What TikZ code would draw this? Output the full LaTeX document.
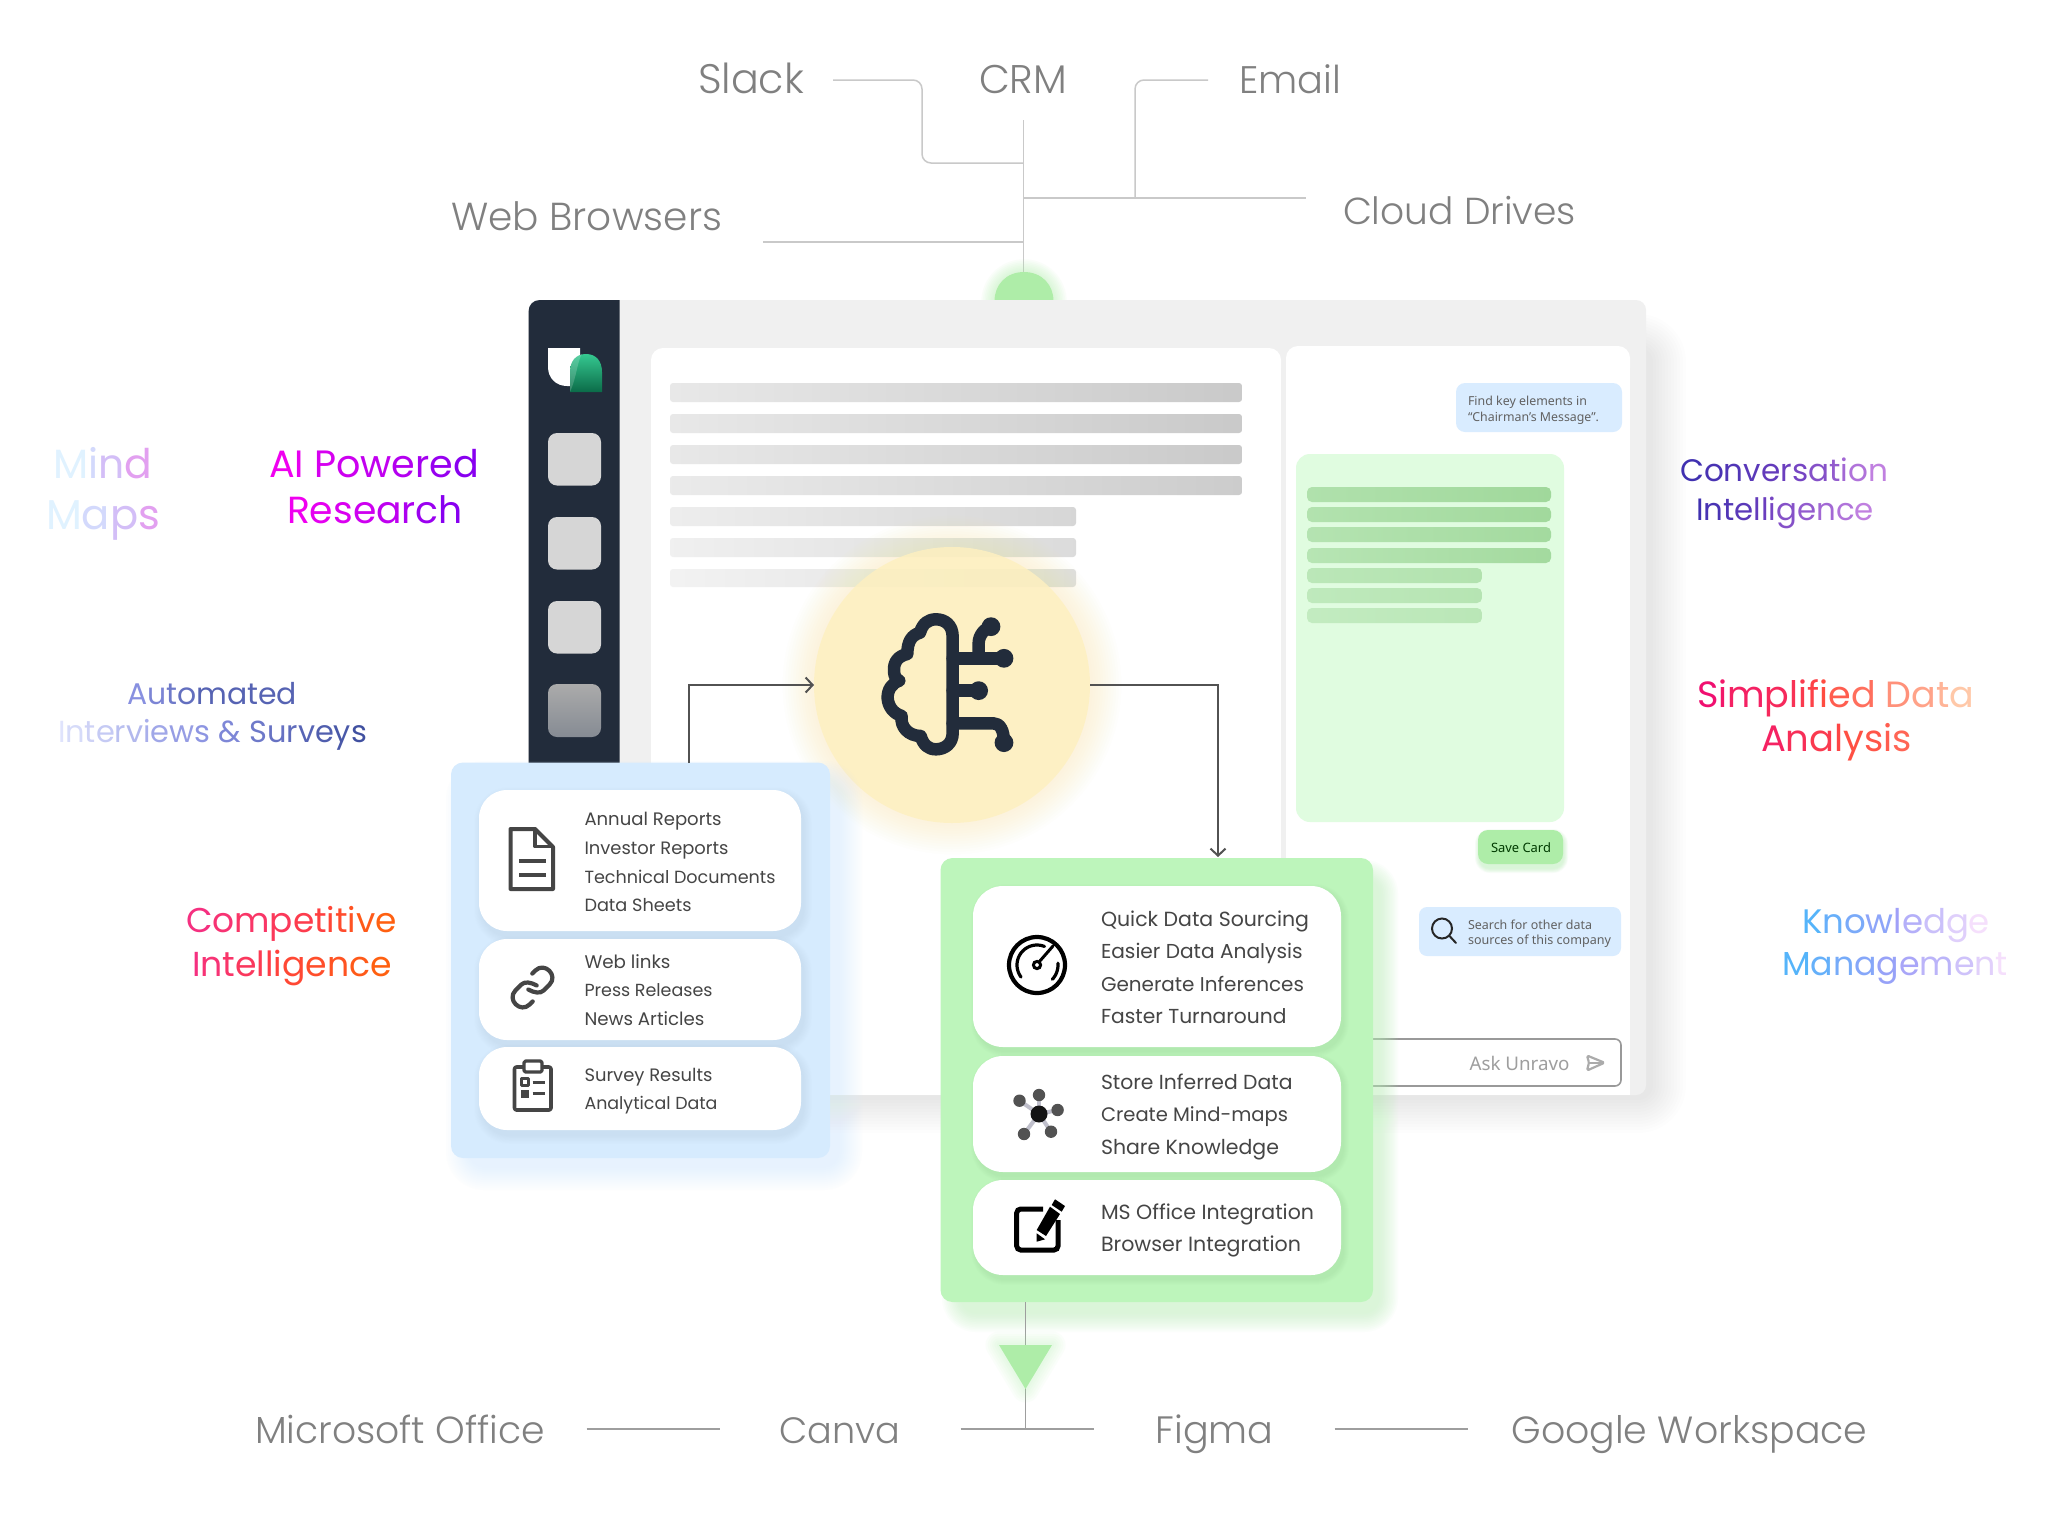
\documentclass[tikz,border=0pt]{standalone}
\usepackage{fontspec}
\usepackage{graphicx}
\usetikzlibrary{arrows.meta,calc}
\newfontfamily\lblfont{Poppins Light}
\newfontfamily\gradfont{Poppins}
\newfontfamily\cardfont{Poppins}
\newfontfamily\uifont{Noto Sans}
\setmainfont{Poppins}
\makeatletter
\newcount\gtN \newcount\gtI
\newcommand\gradt[4]{%
 \gtN=0 \@tfor\gx:=#4\do{\advance\gtN by 1 }%
 \gtI=0 \@tfor\gx:=#4\do{%
  \pgfmathtruncatemacro\gp{100*\gtI/max(\gtN-1,1)}%
  \ifnum\gp<50 \pgfmathtruncatemacro\gq{2*\gp}\color{#2!\gq!#1}%
  \else \pgfmathtruncatemacro\gq{2*\gp-100}\color{#3!\gq!#2}\fi
  \gx\advance\gtI by 1 }}
\makeatother
\newcommand\fw[2]{\resizebox{#1pt}{!}{#2}}
\newcommand\softrect[8]{%
 \foreach \kk in {1,...,12}{%
  \pgfmathsetmacro\sE{#7*\kk/12}%
  \pgfmathsetmacro\sR{#5+\sE}%
  \fill[#6,opacity=#8,rounded corners=\sR pt] ({#1-\sE},{#2-\sE}) rectangle ({#3+\sE},{#4+\sE});
 }}
\definecolor{navy}{HTML}{222C3B}
\definecolor{winG}{HTML}{F0F0F0}
\definecolor{lineG}{HTML}{C9C9C9}
\definecolor{txtG}{HTML}{808080}
\definecolor{cardT}{HTML}{454545}
\definecolor{blueB}{HTML}{D6EBFE}
\definecolor{greenB}{HTML}{BDF5BB}
\definecolor{bubble}{HTML}{D9ECFF}
\definecolor{dome}{HTML}{AEEDA8}
\definecolor{mint}{HTML}{E0FCE0}
\definecolor{yel}{HTML}{FEF0C0}
\definecolor{yelG}{HTML}{FCE9A6}
\definecolor{barG}{HTML}{A0D89B}
\definecolor{logoT}{HTML}{35C890}
\definecolor{logoB}{HTML}{0B6B48}
\definecolor{mA}{HTML}{E0F2FF}\definecolor{mB}{HTML}{CCCCFA}\definecolor{mC}{HTML}{E2A0F0}
\definecolor{pA}{HTML}{F000F0}\definecolor{pB}{HTML}{C800F0}\definecolor{pC}{HTML}{8800F0}
\definecolor{aA}{HTML}{DFE3FC}\definecolor{aB}{HTML}{8890E0}\definecolor{aC}{HTML}{4050A0}
\definecolor{cA}{HTML}{F53080}\definecolor{cB}{HTML}{FF3F40}\definecolor{cC}{HTML}{FF6010}
\definecolor{vA}{HTML}{4030B0}\definecolor{vB}{HTML}{7040C0}\definecolor{vC}{HTML}{C080E0}
\definecolor{sA}{HTML}{F01070}\definecolor{sB}{HTML}{FF4C40}\definecolor{sC}{HTML}{FFC8A8}
\definecolor{kA}{HTML}{55B4FA}\definecolor{kB}{HTML}{A0A0F8}\definecolor{kC}{HTML}{F5DFFC}
\tikzset{
 gline/.style={draw=lineG,line width=1.5pt},
 bline/.style={draw=black!38,line width=1.5pt},
 flow/.style={draw=black!68,line width=2pt,-{Straight Barb[length=7pt,width=15pt,line width=2pt]}},
 big/.style={inner sep=0pt,outer sep=0pt,anchor=base west,font=\gradfont\fontsize{40}{48}\selectfont},
 grey/.style={big,text=txtG,font=\lblfont\fontsize{40}{48}\selectfont},
 ctext/.style={inner sep=0pt,outer sep=0pt,anchor=base west,text=cardT,font=\cardfont\fontsize{20}{24}\selectfont},
 uit/.style={inner sep=0pt,outer sep=0pt,anchor=base west,text=black!62,font=\uifont\fontsize{12}{14}\selectfont},
 wcard/.style={fill=white,rounded corners=28pt},
 ico/.style={draw=cardT,line join=round,line cap=round},
 brainl/.style={draw=navy,line width=12.5pt,line cap=round,line join=round},
}
\begin{document}
\begin{tikzpicture}[x=1pt,y=-1pt]
\useasboundingbox (0,0) rectangle (2048,1521);
\fill[white] (0,0) rectangle (2048,1521);

% top connectors
\coordinate (hubTop) at (1023.5,120);
\coordinate (hubBot) at (1023.5,275);
\coordinate (slackEnd) at (833,80);
\coordinate (slackHub) at (1023.5,163);
\coordinate (emailEnd) at (1208,80);
\coordinate (emailHub) at (1135,198);
\coordinate (cloudEnd) at (1306,198);
\coordinate (cloudHub) at (1023.5,198);
\coordinate (webEnd) at (763,242);
\coordinate (webHub) at (1023.5,242);
\draw[gline] (hubTop) -- (hubBot);
\draw[gline,rounded corners=9pt] (slackEnd) -- (922,80) -- (922,163) -- (slackHub);
\draw[gline,rounded corners=9pt] (emailEnd) -- (1135,80) -- (emailHub);
\draw[gline] (cloudHub) -- (cloudEnd);
\draw[gline] (webEnd) -- (webHub);

% dome with glow
\foreach \kk in {1,...,8}{\pgfmathsetmacro\dd{30+1.6*\kk}%
 \fill[dome,opacity=.06] (1024,302) circle (\dd);}
\fill[dome] (994.5,301) .. controls (994.5,285) and (1006,272) .. (1024,272) .. controls (1042,272) and (1053.5,285) .. (1053.5,301) -- cycle;

% window
\softrect{590}{350}{1650}{1097}{12}{black}{36}{.009}
\fill[winG,rounded corners=10pt] (528.5,300) rectangle (1646,1095);
\fill[white] (651,360) rectangle (1281,1095);
\fill[white,rounded corners=12pt] (651,348) rectangle (1281,380);
\fill[white] (1286,360) rectangle (1630,1095);
\fill[white,rounded corners=12pt] (1286,346) rectangle (1630,380);
% sidebar
\fill[navy] (528.5,763) -- (528.5,312) .. controls (528.5,305) and (533,300) .. (540,300) -- (619.5,300) -- (619.5,763) -- cycle;
\fill[white] (548,348) -- (580,348) -- (580,386) -- (567,386) .. controls (556,386) and (548,378) .. (548,367) -- cycle;
\shade[top color=logoT,bottom color=logoB] (570,392) -- (570,372) .. controls (570,361) and (576,354) .. (586,354) .. controls (596,354) and (602,361) .. (602,372) -- (602,392) -- cycle;
\fill[white,opacity=.18] (570,392) -- (570,372) .. controls (570,361) and (576,354) .. (582,354) .. controls (577,362) and (577,376) .. (570,392) -- cycle;
\foreach \yy in {433,517,601}{\fill[black!16,rounded corners=9pt] (548,\yy) rectangle (601,{\yy+52.5});}
\shade[top color=black!33,bottom color=navy!55!white,rounded corners=9pt] (548,684) rectangle (601,737);

% document ghost bars
\shade[left color=black!9,right color=black!21,rounded corners=3pt] (670,383) rectangle (1242,402);
\shade[left color=black!9,right color=black!21,rounded corners=3pt] (670,414) rectangle (1242,433);
\shade[left color=black!9,right color=black!21,rounded corners=3pt] (670,445) rectangle (1242,464);
\shade[left color=black!8,right color=black!20,rounded corners=3pt] (670,476) rectangle (1242,495);
\shade[left color=black!7,right color=black!16,rounded corners=3pt] (670,507) rectangle (1076,526);
\shade[left color=black!6,right color=black!14,rounded corners=3pt] (670,538) rectangle (1076,557);
\shade[left color=black!5,right color=black!13,rounded corners=3pt] (670,569) rectangle (1076,587);

% right chat panel
\fill[bubble,rounded corners=9pt] (1456,383) rectangle (1622,432);
\node[uit] (ask1) at (1468,405.5) {\fw{119}{Find key elements in}};
\node[uit] (ask2) at (1468,421.5) {\fw{131}{“Chairman’s Message”.}};
\fill[mint,rounded corners=14pt] (1296,454) rectangle (1564,822);
\foreach \yA/\yB/\xE/\cA/\cB in {487/502/1551/75/100,507/522/1551/72/98,527/542/1551/68/95,548/563/1551/64/95,568/583/1482/58/72,588/603/1482/52/66,608/623/1482/46/60}{
 \shade[left color=barG!\cA!mint,right color=barG!\cB!mint,rounded corners=5pt] (1307,\yA) rectangle (\xE,\yB);}
\softrect{1480}{834}{1563}{868}{10}{greenB}{5}{.06}
\fill[dome,rounded corners=10pt] (1478,830) rectangle (1563,864);
\node[uit,text=black!62!green!60!black] (save) at (1491,852) {\fw{60}{Save Card}};
\fill[bubble,rounded corners=8pt] (1419,907) rectangle (1621,956);
\draw[black!85,line width=2pt] (1442,928.5) circle (10);
\coordinate (lensA) at (1449.5,936);\coordinate (lensB) at (1456,943);
\draw[black!85,line width=2pt,line cap=round] (lensA) -- (lensB);
\node[uit] (srch1) at (1468,929.5) {\fw{124}{Search for other data}};
\node[uit] (srch2) at (1468,944.5) {\fw{143}{sources of this company}};
\draw[black!40,line width=1.6pt,rounded corners=6pt] (1360,1039) rectangle (1621,1086);
\node[uit,text=black!38] (askU) at (1469.5,1070) {\fw{100}{Ask Unravo}};
\draw[black!33,line width=2.2pt,line join=round,rounded corners=1.5pt] (1587,1055.5) -- (1604.5,1062.7) -- (1587,1070.5) -- (1589,1062.7) -- cycle;
\draw[black!33,line width=2pt] (1589,1062.7) -- (1604,1062.7);

% brain glow
\foreach \kk in {1,...,12}{\pgfmathsetmacro\rr{138+2.6*\kk}\fill[yelG,opacity=.032] (952,685) circle (\rr);}
\node[circle,fill=yel,fill opacity=.84,minimum size=276pt,inner sep=0pt,outer sep=0pt] (brain) at (952,685) {};

% brain icon
\begin{scope}[shift={(800,530)},x=0.3333pt,y=-0.3333pt]
\draw[brainl] (458,320) .. controls (458,285) and (435,268) .. (408,268) .. controls (385,268) and (368,280) .. (360,308)
 .. controls (335,315) and (322,335) .. (322,372)
 .. controls (295,378) and (280,395) .. (282,425) .. controls (283,440) and (290,450) .. (298,452)
 .. controls (275,460) and (262,480) .. (263,505) .. controls (265,530) and (280,550) .. (305,558)
 .. controls (300,590) and (325,618) .. (362,618)
 .. controls (370,645) and (385,658) .. (408,658) .. controls (435,658) and (458,640) .. (458,610) -- cycle;
\draw[brainl] (458,385) -- (612,385);
\draw[brainl] (536,385) -- (536,340) .. controls (536,315) and (555,295) .. (573,290);
\draw[brainl] (458,482) -- (536,482);
\draw[brainl] (458,580) -- (580,580) .. controls (600,580) and (612,600) .. (612,638);
\foreach \px/\py in {612/385,573/290,536/482,612/638}{\fill[navy] (\px,\py) circle (9.4pt);}
\end{scope}

% blue box
\softrect{470}{785}{838}{1166}{14}{blueB}{24}{.05}
\node[fill=blueB,rounded corners=12pt,minimum width=379pt,minimum height=395.5pt,inner sep=0pt,outer sep=0pt] (blueBox) at (640.5,960.25) {};
\foreach \yA/\yB in {790/931,939/1040,1047/1130}{
 \softrect{483}{\yA+6}{803}{\yB+5}{26}{blue!45!black!50}{9}{.009}
 \fill[wcard] (479,\yA) rectangle (801,\yB);}

% flows
\coordinate (flowOut) at (689,763);
\coordinate (flowIn) at (1218,857);
\draw[flow] (flowOut) |- (brain.west);
\draw[flow] (brain.east) -| (flowIn);

% blue card icons
\draw[ico,line width=4pt] (510.5,829) -- (535,829) -- (553,847) -- (553,889) -- (510.5,889) -- cycle;
\draw[ico,line width=3.6pt] (535,829) -- (535,846.5) -- (553,846.5);
\draw[ico,line width=4pt,line cap=butt] (519,861) -- (546,861);
\draw[ico,line width=4pt,line cap=butt] (519,875) -- (546,875);
\begin{scope}[shift={(532.5,987.5)},rotate=45]
\draw[ico,line width=4.2pt] (-4.4,-1.5) .. controls (-2.5,5) and (1,10) .. (5.9,10) -- (14,10) .. controls (27,10) and (27,-10) .. (14,-10) -- (9.7,-10);
\draw[ico,line width=4.2pt] (4.4,1.5) .. controls (2.5,-5) and (-1,-10) .. (-5.9,-10) -- (-14,-10) .. controls (-27,-10) and (-27,10) .. (-14,10) -- (-9.7,10);
\end{scope}
\draw[ico,line width=3.6pt,rounded corners=2pt] (514.5,1067) rectangle (551,1110);
\draw[ico,line width=3.2pt,fill=white,rounded corners=1.5pt] (524,1061) rectangle (542,1072);
\draw[ico,line width=2.6pt] (521.5,1078.5) rectangle (528.5,1085.5);
\fill[cardT] (520.5,1089.5) rectangle (529,1097.5);
\draw[ico,line width=3pt,line cap=butt] (532.5,1082) -- (545,1082);
\draw[ico,line width=3pt,line cap=butt] (532.5,1093.5) -- (545,1093.5);

% blue card text
\node[ctext] (b1) at (584.5,825.5) {\fw{137}{Annual Reports}};
\node[ctext] (b2) at (584.5,854.5) {\fw{144}{Investor Reports}};
\node[ctext] (b3) at (584.5,883) {\fw{191}{Technical Documents}};
\node[ctext] (b4) at (584.5,911.5) {\fw{107}{Data Sheets}};
\node[ctext] (b5) at (584.5,968.5) {\fw{86}{Web links}};
\node[ctext] (b6) at (584.5,996.5) {\fw{128}{Press Releases}};
\node[ctext] (b7) at (584.5,1025.5) {\fw{120}{News Articles}};
\node[ctext] (b8) at (584.5,1081.5) {\fw{128}{Survey Results}};
\node[ctext] (b9) at (584.5,1109.5) {\fw{133}{Analytical Data}};

% green box
\softrect{962}{880}{1378}{1312}{14}{greenB}{20}{.055}
\node[fill=greenB,rounded corners=12pt,minimum width=432.5pt,minimum height=444pt,inner sep=0pt,outer sep=0pt] (greenBox) at (1156.75,1080) {};
\foreach \yA/\yB in {886/1047,1056/1172,1180/1275}{
 \softrect{977}{\yA+4}{1343}{\yB+4}{28}{black!40!green!40}{6}{.006}
 \fill[wcard,rounded corners=30pt] (973,\yA) rectangle (1341,\yB);}

% green icons
\draw[black,line width=4.2pt] (1037,965) circle (28);
\draw[black,line width=3.2pt,line cap=round] plot[domain=217:68,samples=30] ({1037+20*cos(\x)},{965-20*sin(\x)});
\draw[black,line width=3.2pt,line cap=round] plot[domain=-43:5,samples=12] ({1037+21*cos(\x)},{965-21*sin(\x)});
\draw[black,line width=3pt,line cap=round] (1039,962) -- (1053,946);
\draw[black,line width=3pt,fill=white] (1037,965) circle (3.6);
\coordinate (hubC) at (1039,1114);
\foreach \sx/\sy in {1019.5/1100.7,1039/1095,1057.6/1110,1051/1131.7,1024/1134}{
 \coordinate (sat) at (\sx,\sy);
 \draw[black!10!blue!12!gray!45,line width=4pt] (hubC) -- (sat);}
\foreach \sx/\sy in {1019.5/1100.7,1039/1095,1057.6/1110,1051/1131.7,1024/1134}{
 \fill[black!68] (\sx,\sy) circle (6.2);}
\fill[black!92] (hubC) circle (8.5);
\draw[black,line width=5pt,rounded corners=4pt] (1043,1209) -- (1016.7,1209) -- (1016.7,1250) -- (1058,1250) -- (1058,1220);
\fill[black] (1055,1199.3) -- (1065,1206) -- (1061.7,1211.7) -- (1051.7,1205) -- cycle;
\fill[black] (1050,1206.7) -- (1060,1214) -- (1046,1236) -- (1036.7,1230) -- cycle;
\fill[black] (1036.7,1233.3) -- (1045,1239.3) -- (1036.7,1241.7) -- cycle;

% green card text
\node[ctext] (g1) at (1101,926.5) {\fw{208}{Quick Data Sourcing}};
\node[ctext] (g2) at (1101,958.5) {\fw{201.5}{Easier Data Analysis}};
\node[ctext] (g3) at (1101,991) {\fw{203}{Generate Inferences}};
\node[ctext] (g4) at (1101,1023) {\fw{185.5}{Faster Turnaround}};
\node[ctext] (g5) at (1101,1089.5) {\fw{191.5}{Store Inferred Data}};
\node[ctext] (g6) at (1101,1121.5) {\fw{187}{Create Mind-maps}};
\node[ctext] (g7) at (1101,1154) {\fw{178}{Share Knowledge}};
\node[ctext] (g8) at (1101,1219.5) {\fw{213}{MS Office Integration}};
\node[ctext] (g9) at (1101,1251) {\fw{200}{Browser Integration}};

% bottom connectors
\coordinate (dropTop) at (1025,1302);
\coordinate (dropBot) at (1025,1429);
\coordinate (l1a) at (586.5,1429);\coordinate (l1b) at (719.5,1429);
\coordinate (l2a) at (960.6,1429);\coordinate (l2b) at (1093.5,1429);
\coordinate (l3a) at (1334.7,1429);\coordinate (l3b) at (1467.6,1429);
\draw[bline,line width=1pt] (dropTop) -- (dropBot);
\draw[bline] (l1a) -- (l1b);
\draw[bline] (l2a) -- (l2b);
\draw[bline] (l3a) -- (l3b);
\foreach \kk in {1,...,6}{\pgfmathsetmacro\ww{4.5*\kk}%
 \draw[dome,line width=\ww pt,opacity=.05,line join=round] (999,1345) -- (1052,1345) -- (1025.5,1389) -- cycle;}
\fill[dome] (999,1345) -- (1052,1345) -- (1025.5,1389) -- cycle;

% grey labels
\node[grey] (slack) at (698,93) {\fw{106}{Slack}};
\node[grey] (crm) at (979,93) {\fw{88}{CRM}};
\node[grey] (email) at (1239,93) {\fw{102}{Email}};
\node[grey] (cloud) at (1343,224) {\fw{233}{Cloud Drives}};
\node[grey] (web) at (451,230) {\fw{271}{Web Browsers}};
\node[grey] (ms) at (255,1443) {\fw{290}{Microsoft Office}};
\node[grey] (canva) at (779.5,1443) {\fw{121}{Canva}};
\node[grey] (figma) at (1155.7,1443) {\fw{118}{Figma}};
\node[grey] (gws) at (1511.5,1443) {\fw{356}{Google Workspace}};

% gradient labels
\node[big] (mind) at (53,478) {\fw{99}{\gradt{mA}{mB}{mC}{Mind}}};
\node[big] (maps) at (46,529) {\fw{114}{\gradt{mA}{mB}{mC}{Maps}}};
\node[big] (ai) at (269,477) {\fw{210}{\gradt{pA}{pB}{pC}{AI~Powered}}};
\node[big] (res) at (287,523) {\fw{176}{\gradt{pA}{pB}{pC}{Research}}};
\node[big] (auto) at (127,704) {\fw{170}{\gradt{aB}{aC!70!aB}{aC}{Automated}}};
\node[big] (intv) at (58,742) {\fw{309}{\gradt{aA}{aB}{aC}{Interviews~\&~Surveys}}};
\node[big] (comp) at (186,932) {\fw{211}{\gradt{cA}{cB}{cC}{Competitive}}};
\node[big] (ci) at (192,976) {\fw{200}{\gradt{cA}{cB}{cC}{Intelligence}}};
\node[big] (conv) at (1680,481) {\fw{208}{\gradt{vA}{vB}{vC}{Conversation}}};
\node[big] (ci2) at (1696,520) {\fw{178}{\gradt{vA}{vB}{vC}{Intelligence}}};
\node[big] (simp) at (1697,707) {\fw{277}{\gradt{sA}{sB}{sC}{Simplified~Data}}};
\node[big] (anal) at (1761,751) {\fw{151}{\gradt{sA!70!sB}{sB}{sB!80!sC}{Analysis}}};
\node[big] (know) at (1802,933) {\fw{188}{\gradt{kA}{kB}{kC}{Knowledge}}};
\node[big] (mgmt) at (1782,975) {\fw{226}{\gradt{kA}{kB}{kC}{Management}}};
\end{tikzpicture}
\end{document}
